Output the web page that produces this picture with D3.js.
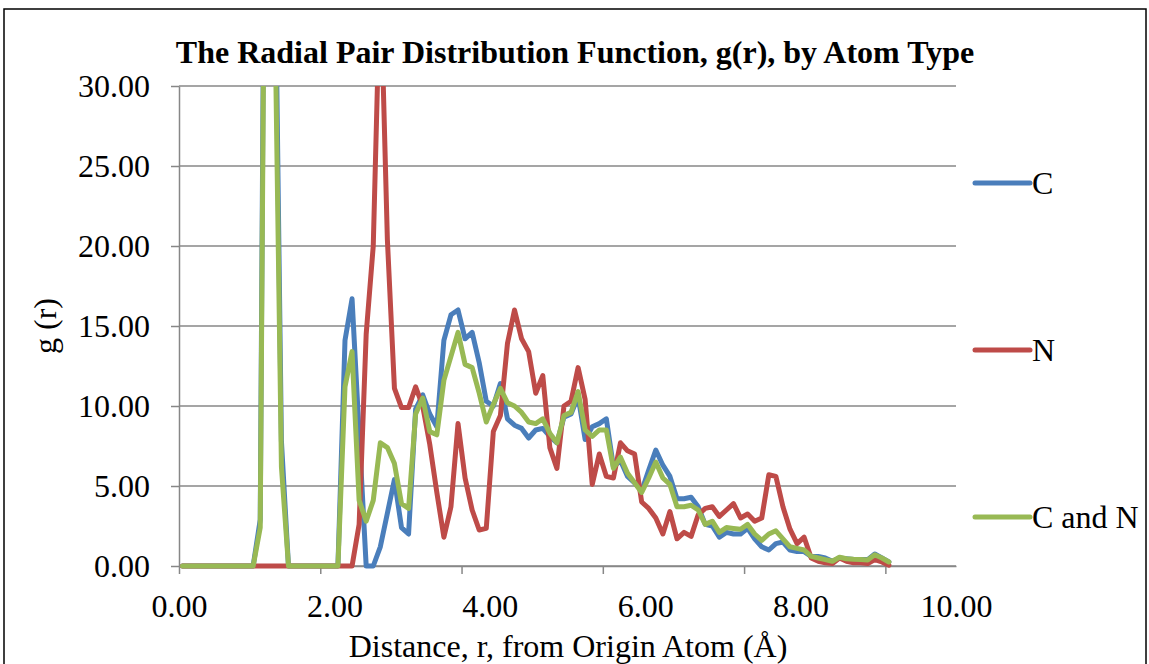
<!DOCTYPE html>
<html><head><meta charset="utf-8">
<script src="https://cdn.jsdelivr.net/npm/d3@7"></script>
<style>
body{margin:0;background:#fff}
svg{display:block}
text{font-family:"Liberation Serif","Times New Roman",serif;fill:#000}
</style>
</head><body><svg id="c" width="1149" height="664"></svg>
<script>
// ---- data ----
const r = [0.05,0.15,0.25,0.35,0.45,0.55,0.65,0.75,0.85,0.95,
  1.05,1.15,1.25,1.35,1.45,1.55,1.65,1.75,1.85,1.95,
  2.05,2.15,2.25,2.35,2.45,2.55,2.65,2.75,2.85,2.95,
  3.05,3.15,3.25,3.35,3.45,3.55,3.65,3.75,3.85,3.95,
  4.05,4.15,4.25,4.35,4.45,4.55,4.65,4.75,4.85,4.95,
  5.05,5.15,5.25,5.35,5.45,5.55,5.65,5.75,5.85,5.95,
  6.05,6.15,6.25,6.35,6.45,6.55,6.65,6.75,6.85,6.95,
  7.05,7.15,7.25,7.35,7.45,7.55,7.65,7.75,7.85,7.95,
  8.05,8.15,8.25,8.35,8.45,8.55,8.65,8.75,8.85,8.95,
  9.05,9.15,9.25,9.35,9.45,9.55,9.65,9.75,9.85,9.95,10.05];

const gC = [0,0,0,0,0,0,0,0,0,0,0,
  2.9,70,42,7.8,
  0,0,0,0,0,0,0,0,
  14.1,16.7,8.3,0,0,1.2,3.3,5.4,2.4,2.0,
  9.8,10.7,9.5,8.7,14.1,15.7,16.0,14.2,14.6,12.7,
  10.3,10.0,11.4,9.2,8.8,8.6,8.0,8.5,8.6,8.1,
  7.7,9.3,9.5,10.6,7.9,8.7,8.9,9.2,6.2,6.6,
  5.6,5.2,4.7,6.0,7.25,6.3,5.6,4.2,4.2,4.3,
  3.7,2.6,2.5,1.8,2.1,2.0,2.0,2.35,1.7,1.2,
  1.0,1.4,1.5,1.0,0.9,0.9,0.6,0.6,0.5,0.3,
  0.5,0.45,0.4,0.4,0.4,0.75,0.5,0.25];

const gN = [0,0,0,0,0,0,0,0,0,0,0,0,0,0,0,0,0,0,0,0,0,0,0,0,0,
  2.6,14.5,20,37,20.4,11.1,9.9,9.9,11.2,10.0,
  7.6,4.6,1.8,3.7,8.9,5.5,3.5,2.25,2.35,8.4,
  9.4,13.9,16.0,14.2,13.4,10.8,11.9,7.4,6.1,10.0,
  10.3,12.4,10.4,5.1,7.0,5.6,5.5,7.7,7.2,7.0,
  4.0,3.6,3.0,2.0,3.4,1.7,2.1,1.85,3.2,3.6,
  3.7,3.1,3.5,3.9,3.0,3.25,2.8,3.0,5.7,5.6,
  3.7,2.3,1.4,1.8,0.5,0.3,0.2,0.15,0.5,0.3,
  0.2,0.2,0.15,0.4,0.25,0.05];

const gCN = [0,0,0,0,0,0,0,0,0,0,0,
  2.4,65,37,6.2,
  0,0,0,0,0,0,0,0,
  11.2,13.4,4.1,2.8,4.1,7.7,7.4,6.4,3.9,3.6,
  9.5,10.5,8.4,8.2,11.6,13.1,14.6,12.6,12.4,10.8,
  9.0,10.1,11.1,10.2,10.0,9.6,9.0,8.9,9.2,8.3,
  7.7,9.4,9.6,10.9,8.5,8.1,8.5,8.5,6.1,6.8,
  5.8,5.2,4.6,5.5,6.5,5.5,5.1,3.7,3.7,3.8,
  3.5,2.6,2.8,2.1,2.4,2.35,2.3,2.6,2.0,1.6,
  2.0,2.2,1.7,1.2,1.1,1.0,0.6,0.5,0.4,0.3,
  0.55,0.45,0.42,0.4,0.38,0.7,0.5,0.25];

const seriesNames = ["C", "N", "C and N"];
const seriesValues = [gC, gN, gCN];
const colors = ["#4A7EBB", "#BE4B48", "#98B954"];
const yTicks = [0, 5, 10, 15, 20, 25, 30];
const xTicks = [0, 2, 4, 6, 8, 10];
const xTickLabels = ["0.00", "2.00", "4.00", "6.00", "8.00", "10.00"];
const titleText = "The Radial Pair Distribution Function, g(r), by Atom Type";
const xTitle = "Distance, r, from Origin Atom (\u00C5)";
const yTitle = "g (r)";

// ---- layout ----
const svg = d3.select("#c");
const L = 179, T = 86, PW = 777, PH = 480;
const gridColor = "#878787";
const FS = "32px";

svg.append("rect").attr("x", 4).attr("y", 9).attr("width", 1142).attr("height", 700)
  .attr("fill", "none").attr("stroke", "#000").attr("stroke-width", 1.5);

const x = d3.scaleLinear().domain([0, 11]).range([0, PW]);
const y = d3.scaleLinear().domain([0, 30]).range([PH, 0]);
const xl = d3.scalePoint().domain(xTickLabels).range([0, PW]);

const g = svg.append("g").attr("transform", `translate(${L},${T})`);

// gridlines
g.append("g").selectAll("line").data(yTicks).join("line")
  .attr("x1", 0).attr("x2", PW).attr("y1", d => y(d)).attr("y2", d => y(d))
  .attr("stroke", gridColor).attr("stroke-width", 1.5);

// y axis
const ya = g.append("g").call(d3.axisLeft(y).tickValues(yTicks).tickSizeInner(8).tickSizeOuter(0)
  .tickPadding(21).tickFormat(d3.format(".2f")));
ya.selectAll("path,line").attr("stroke", gridColor).attr("stroke-width", 1.5);
ya.selectAll("text").style("font-size", FS).attr("fill", "#000");

// x axis ticks
const xa = g.append("g").attr("transform", `translate(0,${PH})`)
  .call(d3.axisBottom(x).tickValues(xTicks).tickSizeInner(8).tickSizeOuter(0).tickFormat(""));
xa.selectAll("path,line").attr("stroke", gridColor).attr("stroke-width", 1.5);

// x labels (spread over the full axis width)
const xla = g.append("g").attr("transform", `translate(0,${PH})`)
  .call(d3.axisBottom(xl).tickSize(0).tickPadding(28));
xla.select(".domain").remove();
xla.selectAll("text").style("font-size", FS).attr("fill", "#000");

// clip
svg.append("clipPath").attr("id", "pc").append("rect")
  .attr("x", -4).attr("y", 0).attr("width", PW + 8).attr("height", PH + 5);

const line = d3.line().x((d, i) => x(r[i])).y(d => y(d));
const lines = g.append("g").attr("clip-path", "url(#pc)");
seriesValues.forEach((vals, si) => {
  lines.append("path").datum(vals).attr("d", line)
    .attr("fill", "none").attr("stroke", colors[si]).attr("stroke-width", 5)
    .attr("stroke-linejoin", "round").attr("stroke-linecap", "round");
});

// legend
const ly = d3.scalePoint().domain(seriesNames).range([183, 517]);
const lg = svg.append("g");
seriesNames.forEach((n, i) => {
  lg.append("line").attr("x1", 975).attr("x2", 1030).attr("y1", ly(n)).attr("y2", ly(n))
    .attr("stroke", colors[i]).attr("stroke-width", 5).attr("stroke-linecap", "round");
  lg.append("text").attr("x", 1032).attr("y", ly(n)).attr("dy", "0.34em")
    .style("font-size", FS).text(n);
});

// titles
svg.append("text").attr("x", 575).attr("y", 63).attr("text-anchor", "middle")
  .style("font-size", FS).style("font-weight", "bold").text(titleText);
svg.append("text").attr("x", 568).attr("y", 657).attr("text-anchor", "middle")
  .style("font-size", FS).text(xTitle);
svg.append("text").attr("transform", "translate(56,326) rotate(-90)").attr("text-anchor", "middle")
  .style("font-size", FS).text(yTitle);
</script>
</body></html>
